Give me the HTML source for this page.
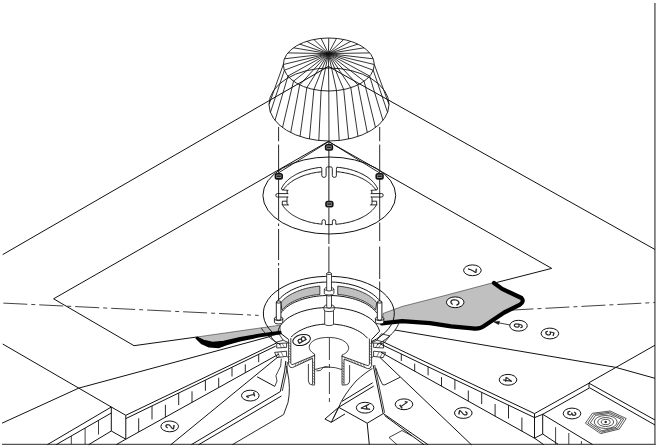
<!DOCTYPE html>
<html><head><meta charset="utf-8"><title>Roof drain detail</title>
<style>html,body{margin:0;padding:0;background:#fff}svg{display:block;filter:grayscale(1)}text{font-family:"Liberation Sans",sans-serif}</style>
</head><body>
<svg width="660" height="448" viewBox="0 0 660 448">
<rect width="660" height="448" fill="#fff"/>
<line x1="654.9" y1="3.0" x2="654.9" y2="445.0" stroke="#777" stroke-width="1.7" />
<line x1="2.0" y1="444.4" x2="655.7" y2="444.4" stroke="#555" stroke-width="1.3" />
<line x1="328.4" y1="66.4" x2="2.7" y2="254.6" stroke="#111" stroke-width="1.0" />
<line x1="328.4" y1="66.4" x2="655.0" y2="249.5" stroke="#111" stroke-width="1.0" />
<path d="M328.3,141.4 L53.6,298.8 L134.0,345.7 L197.7,336.9" stroke="#111" stroke-width="1.0" fill="none" stroke-linejoin="round" />
<path d="M328.3,141.4 L551.7,268.4 L496.5,282.5" stroke="#111" stroke-width="1.0" fill="none" stroke-linejoin="round" />
<ellipse cx="328.8" cy="64.5" rx="45.5" ry="26.5" stroke="#111" stroke-width="0.9" fill="none" />
<ellipse cx="329.0" cy="104.5" rx="60.0" ry="36.5" stroke="#111" stroke-width="0.9" fill="none" />
<line x1="328.4" y1="53.6" x2="328.8" y2="91.0" stroke="#111" stroke-width="0.85" />
<line x1="328.8" y1="91.0" x2="329.0" y2="141.0" stroke="#111" stroke-width="0.85" />
<line x1="328.4" y1="53.6" x2="328.8" y2="38.0" stroke="#111" stroke-width="0.85" />
<line x1="328.4" y1="53.6" x2="336.5" y2="90.6" stroke="#111" stroke-width="0.85" />
<line x1="336.5" y1="90.6" x2="339.2" y2="140.5" stroke="#111" stroke-width="0.85" />
<line x1="328.4" y1="53.6" x2="321.1" y2="90.6" stroke="#111" stroke-width="0.85" />
<line x1="321.1" y1="90.6" x2="318.8" y2="140.5" stroke="#111" stroke-width="0.85" />
<line x1="328.4" y1="53.6" x2="321.1" y2="38.4" stroke="#111" stroke-width="0.85" />
<line x1="328.4" y1="53.6" x2="336.5" y2="38.4" stroke="#111" stroke-width="0.85" />
<line x1="328.4" y1="53.6" x2="343.7" y2="89.5" stroke="#111" stroke-width="0.85" />
<line x1="343.7" y1="89.5" x2="348.6" y2="139.0" stroke="#111" stroke-width="0.85" />
<line x1="328.4" y1="53.6" x2="313.9" y2="89.5" stroke="#111" stroke-width="0.85" />
<line x1="313.9" y1="89.5" x2="309.4" y2="139.0" stroke="#111" stroke-width="0.85" />
<line x1="328.4" y1="53.6" x2="313.9" y2="39.5" stroke="#111" stroke-width="0.85" />
<line x1="328.4" y1="53.6" x2="343.7" y2="39.5" stroke="#111" stroke-width="0.85" />
<line x1="328.4" y1="53.6" x2="350.8" y2="87.7" stroke="#111" stroke-width="0.85" />
<line x1="350.8" y1="87.7" x2="358.0" y2="136.5" stroke="#111" stroke-width="0.85" />
<line x1="328.4" y1="53.6" x2="306.8" y2="87.7" stroke="#111" stroke-width="0.85" />
<line x1="306.8" y1="87.7" x2="300.0" y2="136.5" stroke="#111" stroke-width="0.85" />
<line x1="328.4" y1="53.6" x2="306.8" y2="41.3" stroke="#111" stroke-width="0.85" />
<line x1="328.4" y1="53.6" x2="350.8" y2="41.3" stroke="#111" stroke-width="0.85" />
<line x1="328.4" y1="53.6" x2="357.9" y2="84.9" stroke="#111" stroke-width="0.85" />
<line x1="357.9" y1="84.9" x2="367.3" y2="132.6" stroke="#111" stroke-width="0.85" />
<line x1="328.4" y1="53.6" x2="299.7" y2="84.9" stroke="#111" stroke-width="0.85" />
<line x1="299.7" y1="84.9" x2="290.7" y2="132.6" stroke="#111" stroke-width="0.85" />
<line x1="328.4" y1="53.6" x2="299.7" y2="44.1" stroke="#111" stroke-width="0.85" />
<line x1="328.4" y1="53.6" x2="357.9" y2="44.1" stroke="#111" stroke-width="0.85" />
<line x1="328.4" y1="53.6" x2="364.1" y2="81.2" stroke="#111" stroke-width="0.85" />
<line x1="364.1" y1="81.2" x2="375.5" y2="127.6" stroke="#111" stroke-width="0.85" />
<line x1="328.4" y1="53.6" x2="293.5" y2="81.2" stroke="#111" stroke-width="0.85" />
<line x1="293.5" y1="81.2" x2="282.5" y2="127.6" stroke="#111" stroke-width="0.85" />
<line x1="328.4" y1="53.6" x2="293.5" y2="47.8" stroke="#111" stroke-width="0.85" />
<line x1="328.4" y1="53.6" x2="364.1" y2="47.8" stroke="#111" stroke-width="0.85" />
<line x1="328.4" y1="53.6" x2="369.7" y2="76.1" stroke="#111" stroke-width="0.85" />
<line x1="369.7" y1="76.1" x2="383.0" y2="120.4" stroke="#111" stroke-width="0.85" />
<line x1="328.4" y1="53.6" x2="287.9" y2="76.1" stroke="#111" stroke-width="0.85" />
<line x1="287.9" y1="76.1" x2="275.0" y2="120.4" stroke="#111" stroke-width="0.85" />
<line x1="328.4" y1="53.6" x2="287.9" y2="52.9" stroke="#111" stroke-width="0.85" />
<line x1="328.4" y1="53.6" x2="369.7" y2="52.9" stroke="#111" stroke-width="0.85" />
<line x1="328.4" y1="53.6" x2="373.2" y2="70.2" stroke="#111" stroke-width="0.85" />
<line x1="373.2" y1="70.2" x2="387.6" y2="112.4" stroke="#111" stroke-width="0.85" />
<line x1="328.4" y1="53.6" x2="284.4" y2="70.2" stroke="#111" stroke-width="0.85" />
<line x1="284.4" y1="70.2" x2="270.4" y2="112.4" stroke="#111" stroke-width="0.85" />
<line x1="328.4" y1="53.6" x2="284.4" y2="58.8" stroke="#111" stroke-width="0.85" />
<line x1="328.4" y1="53.6" x2="373.2" y2="58.8" stroke="#111" stroke-width="0.85" />
<line x1="328.4" y1="53.6" x2="374.3" y2="64.5" stroke="#111" stroke-width="0.85" />
<line x1="374.3" y1="64.5" x2="389.0" y2="104.5" stroke="#111" stroke-width="0.85" />
<line x1="328.4" y1="53.6" x2="283.3" y2="64.5" stroke="#111" stroke-width="0.85" />
<line x1="283.3" y1="64.5" x2="269.0" y2="104.5" stroke="#111" stroke-width="0.85" />
<line x1="278.6" y1="127.0" x2="278.6" y2="141.2" stroke="#111" stroke-width="0.9" />
<line x1="278.6" y1="144.6" x2="278.6" y2="173.0" stroke="#111" stroke-width="0.9" />
<line x1="278.6" y1="179.0" x2="278.6" y2="219.7" stroke="#111" stroke-width="0.9" />
<line x1="278.6" y1="223.5" x2="278.6" y2="226.0" stroke="#111" stroke-width="0.9" />
<line x1="278.6" y1="229.0" x2="278.6" y2="260.0" stroke="#111" stroke-width="0.9" />
<line x1="278.6" y1="263.0" x2="278.6" y2="265.5" stroke="#111" stroke-width="0.9" />
<line x1="278.6" y1="268.0" x2="278.6" y2="300.5" stroke="#111" stroke-width="0.9" />
<line x1="379.7" y1="127.0" x2="379.7" y2="141.2" stroke="#111" stroke-width="0.9" />
<line x1="379.7" y1="144.6" x2="379.7" y2="173.0" stroke="#111" stroke-width="0.9" />
<line x1="379.7" y1="179.0" x2="379.7" y2="219.7" stroke="#111" stroke-width="0.9" />
<line x1="379.7" y1="222.5" x2="379.7" y2="241.0" stroke="#111" stroke-width="0.9" />
<line x1="379.7" y1="246.5" x2="379.7" y2="279.0" stroke="#111" stroke-width="0.9" />
<line x1="379.7" y1="281.5" x2="379.7" y2="301.0" stroke="#111" stroke-width="0.9" />
<line x1="328.9" y1="141.4" x2="328.9" y2="204.0" stroke="#111" stroke-width="1.0" />
<line x1="328.9" y1="207.7" x2="328.9" y2="244.0" stroke="#111" stroke-width="0.9" />
<line x1="328.9" y1="246.5" x2="328.9" y2="272.4" stroke="#111" stroke-width="0.9" />
<line x1="328.8" y1="141.6" x2="278.6" y2="172.8" stroke="#111" stroke-width="0.9" />
<line x1="328.8" y1="141.6" x2="379.4" y2="172.8" stroke="#111" stroke-width="0.9" />
<ellipse cx="329.3" cy="195.5" rx="66.4" ry="38.5" stroke="#111" stroke-width="1.0" fill="none" />
<path d="M281.3,189.0 L281.6,188.2 L282.0,187.4 L282.5,186.6 L282.9,185.8 L283.5,185.0 L284.0,184.2 L284.6,183.5 L285.2,182.7 L285.9,182.0 L286.6,181.2 L287.4,180.5 L288.2,179.8 L289.0,179.1 L289.8,178.4 L290.7,177.8 L291.6,177.1 L292.6,176.5 L293.6,175.9 L294.6,175.3 L295.6,174.7 L296.7,174.1 L297.8,173.6 L298.9,173.0 L300.1,172.5 L301.2,172.0 L302.4,171.6 L303.7,171.1 L304.9,170.7 L306.2,170.3 L307.5,169.9 L308.8,169.5 L310.1,169.2 L311.4,168.9 L312.8,168.6 L314.2,168.3 L315.6,168.1 L317.0,167.8 L318.4,167.6 L319.8,167.5 L321.2,167.3" stroke="#111" stroke-width="1.0" fill="none" stroke-linejoin="round" />
<path d="M336.8,167.2 L338.3,167.4 L339.7,167.5 L341.1,167.7 L342.6,167.9 L344.0,168.2 L345.4,168.4 L346.8,168.7 L348.1,169.0 L349.5,169.3 L350.8,169.7 L352.2,170.1 L353.5,170.5 L354.7,170.9 L356.0,171.4 L357.2,171.8 L358.4,172.3 L359.6,172.8 L360.8,173.4 L361.9,173.9 L363.0,174.5 L364.1,175.1 L365.1,175.7 L366.1,176.3 L367.1,176.9 L368.1,177.6 L369.0,178.3 L369.8,178.9 L370.7,179.6 L371.5,180.4 L372.2,181.1 L373.0,181.8 L373.7,182.6 L374.3,183.4 L374.9,184.1 L375.5,184.9 L376.0,185.7 L376.5,186.5 L377.0,187.3 L377.4,188.2 L377.7,189.0" stroke="#111" stroke-width="1.0" fill="none" stroke-linejoin="round" />
<path d="M376.7,204.6 L376.2,205.4 L375.7,206.1 L375.2,206.9 L374.6,207.6 L374.0,208.4 L373.4,209.1 L372.7,209.8 L372.0,210.5 L371.3,211.2 L370.5,211.9 L369.7,212.5 L368.9,213.2 L368.0,213.8 L367.1,214.5 L366.2,215.1 L365.3,215.7 L364.3,216.2 L363.3,216.8 L362.2,217.3 L361.1,217.9 L360.1,218.4 L358.9,218.9 L357.8,219.4 L356.6,219.8 L355.5,220.2 L354.3,220.7 L353.0,221.1 L351.8,221.4 L350.5,221.8 L349.3,222.1 L348.0,222.4 L346.7,222.7 L345.3,223.0 L344.0,223.2 L342.7,223.5 L341.3,223.7 L339.9,223.9 L338.6,224.0 L337.2,224.2 L335.8,224.3" stroke="#111" stroke-width="1.0" fill="none" stroke-linejoin="round" />
<path d="M322.0,224.2 L320.6,224.0 L319.3,223.9 L318.0,223.7 L316.6,223.5 L315.3,223.3 L314.0,223.1 L312.7,222.8 L311.4,222.5 L310.2,222.2 L308.9,221.9 L307.7,221.6 L306.5,221.2 L305.2,220.8 L304.1,220.4 L302.9,220.0 L301.8,219.6 L300.6,219.1 L299.5,218.6 L298.4,218.2 L297.4,217.6 L296.4,217.1 L295.3,216.6 L294.4,216.0 L293.4,215.5 L292.5,214.9 L291.6,214.3 L290.7,213.7 L289.9,213.0 L289.1,212.4 L288.3,211.7 L287.5,211.1 L286.8,210.4 L286.2,209.7 L285.5,209.0 L284.9,208.3 L284.3,207.6 L283.8,206.8 L283.2,206.1 L282.8,205.4 L282.3,204.6" stroke="#111" stroke-width="1.0" fill="none" stroke-linejoin="round" />
<path d="M282.8,190.5 L283.3,189.8 L283.8,189.1 L284.3,188.4 L284.8,187.7 L285.4,187.0 L286.1,186.3 L286.7,185.6 L287.4,185.0 L288.1,184.3 L288.9,183.7 L289.6,183.1 L290.4,182.5 L291.3,181.9 L292.1,181.3 L293.0,180.7 L293.9,180.1 L294.8,179.6 L295.8,179.1 L296.8,178.6 L297.8,178.1 L298.8,177.6 L299.9,177.1 L300.9,176.7 L302.0,176.2 L303.1,175.8 L304.3,175.4 L305.4,175.0 L306.6,174.7 L307.8,174.3 L309.0,174.0 L310.2,173.7 L311.4,173.4 L312.6,173.1 L313.9,172.9 L315.2,172.6 L316.4,172.4 L317.7,172.2 L319.0,172.1 L320.3,171.9 L321.6,171.8" stroke="#111" stroke-width="1.0" fill="none" stroke-linejoin="round" />
<path d="M336.4,171.7 L337.7,171.8 L339.1,171.9 L340.4,172.1 L341.7,172.3 L343.0,172.5 L344.3,172.7 L345.6,173.0 L346.8,173.2 L348.1,173.5 L349.3,173.8 L350.6,174.1 L351.8,174.5 L353.0,174.8 L354.2,175.2 L355.3,175.6 L356.5,176.0 L357.6,176.5 L358.7,176.9 L359.8,177.4 L360.8,177.9 L361.9,178.4 L362.9,178.9 L363.8,179.4 L364.8,180.0 L365.7,180.5 L366.7,181.1 L367.5,181.7 L368.4,182.3 L369.2,182.9 L370.0,183.6 L370.8,184.2 L371.5,184.9 L372.2,185.5 L372.9,186.2 L373.5,186.9 L374.1,187.6 L374.7,188.3 L375.2,189.0 L375.7,189.8 L376.2,190.5" stroke="#111" stroke-width="1.0" fill="none" stroke-linejoin="round" />
<path d="M321.2,167.3 Q321.8,167.6 321.8,169.5 L321.8,175.6 Q321.8,177.4 323.9,177.4 Q326.1,177.4 326.1,175.6 L326.1,168.4 Q326.1,166.9 327.6,166.9 L330.8,166.9 Q332.3,166.9 332.3,168.4 L332.3,175.6 Q332.3,177.4 334.4,177.4 Q336.4,177.4 336.4,175.6 L336.4,169.5 Q336.4,167.6 336.8,167.3" stroke="#111" stroke-width="0.9" fill="none" />
<path d="M322,224.4 L322,221.2 Q322,219.7 323.7,219.7 Q325.4,219.7 325.4,221.2 L325.4,224.6 L332.4,224.6 L332.4,221.2 Q332.4,219.7 334.1,219.7 Q335.8,219.7 335.8,221.2 L335.8,224.4" stroke="#111" stroke-width="0.9" fill="none" />
<path d="M281.2,189 Q281.5,190 288.2,190.4 Q287.0,190.6 287.0,192 Q287.0,193.6 288.2,193.6 L277.3,193.6 Q275.8,193.6 275.8,195.3 Q275.8,197 277.3,197 L288.2,197 Q287.0,197 287.0,198.2 L287.0,203.3 Q287.0,204.9 288.5,204.9 L282.3,204.9 L282.3,201.2 L287.0,201.2" stroke="#111" stroke-width="0.9" fill="none" />
<path d="M377.8,189 Q377.5,190 370.8,190.4 Q372.0,190.6 372.0,192 Q372.0,193.6 370.8,193.6 L381.7,193.6 Q383.2,193.6 383.2,195.3 Q383.2,197 381.7,197 L370.8,197 Q372.0,197 372.0,198.2 L372.0,203.3 Q372.0,204.9 370.5,204.9 L376.7,204.9 L376.7,201.2 L372.0,201.2" stroke="#111" stroke-width="0.9" fill="none" />
<rect x="325.6" y="144.8" width="6.8" height="5.2" rx="1.7" fill="#8a8a8a" stroke="#111" stroke-width="1.6"/>
<rect x="327.0" y="146.6" width="4.0" height="1.5" fill="#222"/>
<rect x="275.4" y="173.7" width="6.8" height="5.2" rx="1.7" fill="#8a8a8a" stroke="#111" stroke-width="1.6"/>
<rect x="276.8" y="175.5" width="4.0" height="1.5" fill="#222"/>
<rect x="376.2" y="173.7" width="6.8" height="5.2" rx="1.7" fill="#8a8a8a" stroke="#111" stroke-width="1.6"/>
<rect x="377.6" y="175.5" width="4.0" height="1.5" fill="#222"/>
<rect x="326.0" y="201.5" width="6.8" height="5.2" rx="1.7" fill="#8a8a8a" stroke="#111" stroke-width="1.6"/>
<rect x="327.4" y="203.3" width="4.0" height="1.5" fill="#222"/>
<line x1="3.3" y1="303.1" x2="258.6" y2="315.4" stroke="#111" stroke-width="0.8" stroke-dasharray="24 4 4 4"/>
<line x1="509.5" y1="310.2" x2="655.0" y2="302.5" stroke="#111" stroke-width="0.8" stroke-dasharray="24 4 4 4"/>
<line x1="2.7" y1="344.0" x2="111.3" y2="407.0" stroke="#111" stroke-width="1.0" />
<line x1="111.3" y1="407.0" x2="125.8" y2="415.3" stroke="#111" stroke-width="1.0" />
<line x1="2.0" y1="423.2" x2="78.8" y2="388.1" stroke="#111" stroke-width="1.0" />
<line x1="78.8" y1="388.1" x2="272.0" y2="336.0" stroke="#111" stroke-width="1.0" />
<path d="M394.9,330.0 L615.5,367.3 L655.0,378.3" stroke="#111" stroke-width="1.0" fill="none" stroke-linejoin="round" />
<line x1="655.0" y1="345.2" x2="588.8" y2="382.8" stroke="#111" stroke-width="1.0" />
<line x1="125.8" y1="415.3" x2="276.7" y2="342.9" stroke="#111" stroke-width="1.0" />
<line x1="125.8" y1="418.6" x2="275.7" y2="346.1" stroke="#111" stroke-width="1.0" />
<line x1="125.8" y1="439.2" x2="279.0" y2="354.0" stroke="#111" stroke-width="1.0" />
<line x1="125.8" y1="415.3" x2="125.8" y2="439.2" stroke="#111" stroke-width="1.0" />
<line x1="138.7" y1="418.3" x2="138.7" y2="432.0" stroke="#111" stroke-width="0.9" />
<line x1="152.0" y1="405.9" x2="152.0" y2="419.4" stroke="#111" stroke-width="0.9" />
<line x1="165.4" y1="404.8" x2="165.4" y2="417.2" stroke="#111" stroke-width="0.9" />
<line x1="178.7" y1="393.0" x2="178.7" y2="405.1" stroke="#111" stroke-width="0.9" />
<line x1="192.0" y1="391.3" x2="192.0" y2="402.4" stroke="#111" stroke-width="0.9" />
<line x1="205.4" y1="380.1" x2="205.4" y2="390.8" stroke="#111" stroke-width="0.9" />
<line x1="218.7" y1="377.8" x2="218.7" y2="387.5" stroke="#111" stroke-width="0.9" />
<line x1="232.0" y1="367.2" x2="232.0" y2="376.5" stroke="#111" stroke-width="0.9" />
<line x1="245.3" y1="364.4" x2="245.3" y2="372.7" stroke="#111" stroke-width="0.9" />
<line x1="258.7" y1="354.3" x2="258.7" y2="362.2" stroke="#111" stroke-width="0.9" />
<line x1="111.3" y1="407.0" x2="47.3" y2="444.7" stroke="#111" stroke-width="1.0" />
<line x1="111.3" y1="413.0" x2="56.1" y2="444.7" stroke="#111" stroke-width="1.0" />
<line x1="111.3" y1="407.0" x2="111.3" y2="431.0" stroke="#111" stroke-width="1.0" />
<line x1="111.3" y1="431.0" x2="88.6" y2="444.7" stroke="#111" stroke-width="1.0" />
<line x1="111.3" y1="431.0" x2="125.8" y2="439.2" stroke="#111" stroke-width="1.0" />
<line x1="125.8" y1="439.2" x2="116.2" y2="444.7" stroke="#111" stroke-width="1.0" />
<line x1="98.5" y1="420.0" x2="98.5" y2="434.5" stroke="#111" stroke-width="0.8" />
<line x1="85.1" y1="428.0" x2="85.1" y2="444.2" stroke="#111" stroke-width="0.8" />
<line x1="71.3" y1="436.0" x2="71.3" y2="444.2" stroke="#111" stroke-width="0.8" />
<line x1="383.0" y1="341.8" x2="534.5" y2="413.6" stroke="#111" stroke-width="1.0" />
<line x1="380.4" y1="344.0" x2="534.5" y2="417.6" stroke="#111" stroke-width="1.0" />
<line x1="381.0" y1="352.3" x2="534.5" y2="438.2" stroke="#111" stroke-width="1.0" />
<line x1="534.5" y1="413.6" x2="534.5" y2="438.2" stroke="#111" stroke-width="1.0" />
<line x1="401.3" y1="354.0" x2="401.3" y2="361.0" stroke="#111" stroke-width="0.9" />
<line x1="414.7" y1="363.6" x2="414.7" y2="371.2" stroke="#111" stroke-width="0.9" />
<line x1="428.1" y1="366.8" x2="428.1" y2="375.3" stroke="#111" stroke-width="0.9" />
<line x1="441.5" y1="377.1" x2="441.5" y2="386.2" stroke="#111" stroke-width="0.9" />
<line x1="454.9" y1="379.6" x2="454.9" y2="389.7" stroke="#111" stroke-width="0.9" />
<line x1="468.3" y1="390.5" x2="468.3" y2="401.2" stroke="#111" stroke-width="0.9" />
<line x1="481.7" y1="392.4" x2="481.7" y2="404.1" stroke="#111" stroke-width="0.9" />
<line x1="495.1" y1="404.0" x2="495.1" y2="416.2" stroke="#111" stroke-width="0.9" />
<line x1="508.5" y1="405.2" x2="508.5" y2="418.5" stroke="#111" stroke-width="0.9" />
<line x1="521.9" y1="417.5" x2="521.9" y2="431.1" stroke="#111" stroke-width="0.9" />
<line x1="534.5" y1="438.2" x2="543.8" y2="444.7" stroke="#111" stroke-width="1.0" />
<line x1="534.5" y1="413.6" x2="589.0" y2="383.2" stroke="#111" stroke-width="1.0" />
<line x1="534.5" y1="417.6" x2="542.7" y2="414.3" stroke="#111" stroke-width="1.0" />
<line x1="542.7" y1="414.3" x2="589.7" y2="387.8" stroke="#111" stroke-width="1.0" />
<line x1="589.0" y1="383.2" x2="589.0" y2="387.6" stroke="#111" stroke-width="1.0" />
<line x1="589.0" y1="383.2" x2="655.0" y2="420.0" stroke="#111" stroke-width="1.0" />
<line x1="589.7" y1="387.8" x2="655.0" y2="425.0" stroke="#111" stroke-width="1.0" />
<line x1="542.7" y1="414.3" x2="542.7" y2="434.0" stroke="#111" stroke-width="1.0" />
<line x1="534.5" y1="438.2" x2="542.7" y2="434.0" stroke="#111" stroke-width="1.0" />
<line x1="542.7" y1="414.3" x2="592.7" y2="444.6" stroke="#111" stroke-width="1.0" />
<line x1="542.7" y1="434.0" x2="558.0" y2="444.2" stroke="#111" stroke-width="1.0" />
<line x1="555.6" y1="427.2" x2="555.6" y2="444.2" stroke="#111" stroke-width="0.8" />
<line x1="568.8" y1="433.0" x2="568.8" y2="444.2" stroke="#111" stroke-width="0.8" />
<line x1="581.4" y1="441.0" x2="581.4" y2="444.2" stroke="#111" stroke-width="0.8" />
<line x1="170.8" y1="444.7" x2="278.5" y2="356.5" stroke="#111" stroke-width="1.0" />
<line x1="379.9" y1="357.4" x2="471.5" y2="444.8" stroke="#111" stroke-width="1.0" />
<path d="M383.0,313.5 L402.0,306.5 L440.0,296.8 L493.6,282.6 L502.1,288.9 L519.1,296.4 L523.0,299.5 L521.2,303.8 L504.2,312.3 L481.5,327.8 L472.4,328.2 L451.2,326.1 L430.0,322.9 L402.0,321.0 L383.0,323.0 Z" stroke="#333" stroke-width="0.6" fill="#c0c0c0" stroke-linejoin="round" />
<path d="M382,323.4 L402,321.2 L430,323.2 L451.2,326.3 L472.4,328.4 Q480.5,329.2 484,326 L504.2,312.5 L520,304.6 Q524.5,301.5 521.5,298 L502.1,288.9 L494,283" stroke="#000" stroke-width="4.2" fill="none" stroke-linecap="round" stroke-linejoin="round"/>
<path d="M197.7,336.9 L268.6,326.8 L280.0,325.2 L280.5,332.5 L262.0,335.5 L243.0,339.0 L229.0,342.0 L218.0,346.0 L207.0,344.5 L200.0,340.0 Z" stroke="#333" stroke-width="0.6" fill="#c0c0c0" stroke-linejoin="round" />
<path d="M197.3,337.3 L203.6,340.5 L212.7,342.4 L223.6,341.5 L240.0,337.8 L260.0,334.2 L280.5,331.4 L281.0,333.6 L260.0,336.6 L240.0,340.7 L227.3,344.4 L219.0,347.4 L209.0,346.7 L201.8,343.6 L196.2,338.2 Z" stroke="#000" stroke-width="1.5" fill="#000" stroke-linejoin="round" />
<path d="M272.1,332.1 L268.7,328.3 L266.2,324.4 L264.4,320.3 L263.5,316.1 L263.4,311.9 L264.1,307.7 L265.7,303.6 L268.1,299.6 L271.2,295.7 L275.1,292.2 L279.7,288.9 L285.0,285.9 L290.8,283.2 L297.0,281.0 L303.7,279.1 L310.7,277.7 L318.0,276.8 L325.4,276.4 L332.8,276.4 L340.2,276.9 L347.4,277.8 L354.4,279.3 L361.1,281.1 L367.3,283.4 L373.1,286.1 L378.2,289.1 L382.8,292.4 L386.6,296.0 L389.7,299.9 L392.1,303.9 L393.6,308.0 L394.3,312.2 L394.1,316.4 L393.1,320.6 L391.3,324.7 L388.6,328.6 L385.2,332.4 L381.1,335.9 L376.3,339.1 L370.9,342.0" stroke="#111" stroke-width="1.0" fill="none" stroke-linejoin="round" />
<path d="M276.2,303.1 L277.4,301.2 L278.9,299.5 L280.5,297.8 L282.4,296.1 L284.4,294.5 L286.5,293.0 L288.9,291.6 L291.3,290.2 L293.9,289.0 L296.7,287.8 L299.5,286.7 L302.5,285.7 L305.6,284.9 L308.7,284.1 L312.0,283.5 L315.3,283.0 L318.6,282.5 L322.0,282.2 L325.4,282.1 L328.8,282.0 L332.2,282.1 L335.6,282.2 L339.0,282.5 L342.3,283.0 L345.6,283.5 L348.9,284.1 L352.0,284.9 L355.1,285.7 L358.1,286.7 L360.9,287.8 L363.7,289.0 L366.3,290.2 L368.7,291.6 L371.1,293.0 L373.2,294.5 L375.2,296.1 L377.1,297.8 L378.7,299.5 L380.2,301.2 L381.4,303.1" stroke="#111" stroke-width="1.0" fill="none" stroke-linejoin="round" />
<path d="M280.9,302.5 L281.6,301.6 L282.4,300.8 L283.2,300.0 L284.0,299.2 L284.9,298.4 L285.9,297.7 L286.9,296.9 L287.9,296.2 L289.0,295.5 L290.2,294.8 L291.3,294.1 L292.5,293.5 L293.8,292.9 L295.1,292.3 L296.4,291.7 L297.8,291.1 L299.2,290.6 L300.6,290.1 L302.1,289.6 L303.6,289.1 L305.1,288.7 L306.7,288.3 L308.2,287.9 L309.8,287.6 L311.4,287.3 L313.1,287.0 L314.7,286.7 L316.4,286.5 L318.1,286.3 L319.8,286.1 L319.9,294.4 L318.3,294.6 L316.6,294.8 L315.0,295.0 L313.4,295.2 L311.8,295.5 L310.2,295.8 L308.6,296.2 L307.1,296.5 L305.6,296.9 L304.1,297.3 L302.6,297.8 L301.2,298.2 L299.8,298.7 L298.4,299.2 L297.1,299.8 L295.7,300.3 L294.5,300.9 L293.2,301.5 L292.1,302.1 L290.9,302.8 L289.8,303.4 L288.7,304.1 L287.7,304.8 L286.7,305.5 L285.8,306.3 L284.9,307.0 L284.1,307.8 L283.3,308.6 L282.5,309.3 L281.9,310.1 Z" stroke="#111" stroke-width="0.8" fill="#c0c0c0" stroke-linejoin="round" />
<path d="M337.8,286.1 L339.5,286.3 L341.2,286.5 L342.9,286.7 L344.5,287.0 L346.2,287.3 L347.8,287.6 L349.4,287.9 L350.9,288.3 L352.5,288.7 L354.0,289.1 L355.5,289.6 L357.0,290.1 L358.4,290.6 L359.8,291.1 L361.2,291.7 L362.5,292.3 L363.8,292.9 L365.1,293.5 L366.3,294.1 L367.4,294.8 L368.6,295.5 L369.7,296.2 L370.7,296.9 L371.7,297.7 L372.7,298.4 L373.6,299.2 L374.4,300.0 L375.2,300.8 L376.0,301.6 L376.7,302.5 L375.7,310.1 L375.1,309.3 L374.3,308.6 L373.5,307.8 L372.7,307.0 L371.8,306.3 L370.9,305.5 L369.9,304.8 L368.9,304.1 L367.8,303.4 L366.7,302.8 L365.5,302.1 L364.4,301.5 L363.1,300.9 L361.9,300.3 L360.5,299.8 L359.2,299.2 L357.8,298.7 L356.4,298.2 L355.0,297.8 L353.5,297.3 L352.0,296.9 L350.5,296.5 L349.0,296.2 L347.4,295.8 L345.8,295.5 L344.2,295.2 L342.6,295.0 L341.0,294.8 L339.3,294.6 L337.7,294.4 Z" stroke="#111" stroke-width="0.8" fill="#c0c0c0" stroke-linejoin="round" />
<path d="M280.9,312.9 L282.0,311.4 L283.4,310.0 L284.9,308.6 L286.5,307.2 L288.3,305.9 L290.3,304.6 L292.4,303.4 L294.7,302.3 L297.1,301.3 L299.5,300.3 L302.2,299.4 L304.9,298.6 L307.7,297.9 L310.5,297.3 L313.5,296.7 L316.5,296.3 L319.5,295.9 L322.6,295.7 L325.7,295.5 L328.8,295.5 L331.9,295.5 L335.0,295.7 L338.1,295.9 L341.1,296.3 L344.1,296.7 L347.1,297.3 L349.9,297.9 L352.7,298.6 L355.4,299.4 L358.1,300.3 L360.5,301.3 L362.9,302.3 L365.2,303.4 L367.3,304.6 L369.3,305.9 L371.1,307.2 L372.7,308.6 L374.2,310.0 L375.6,311.4 L376.7,312.9" stroke="#111" stroke-width="1.0" fill="none" stroke-linejoin="round" />
<path d="M278.1,331.2 L278.6,329.3 L279.4,327.4 L280.5,325.5 L281.8,323.7 L283.4,322.0 L285.2,320.3 L287.2,318.6 L289.5,317.1 L292.0,315.7 L294.7,314.3 L297.5,313.1 L300.6,311.9 L303.8,310.9 L307.1,310.0 L310.5,309.3 L314.1,308.6 L317.7,308.1 L321.3,307.8 L325.1,307.6 L328.8,307.5 L332.5,307.6 L336.3,307.8 L339.9,308.1 L343.5,308.6 L347.1,309.3 L350.5,310.0 L353.8,310.9 L357.0,311.9 L360.1,313.1 L362.9,314.3 L365.6,315.7 L368.1,317.1 L370.4,318.6 L372.4,320.3 L374.2,322.0 L375.8,323.7 L377.1,325.5 L378.2,327.4 L379.0,329.3 L379.5,331.2" stroke="#111" stroke-width="1.0" fill="none" stroke-linejoin="round" />
<path d="M291.1,337.1 L292.3,335.9 L293.7,334.7 L295.1,333.6 L296.7,332.6 L298.3,331.5 L300.0,330.6 L301.8,329.7 L303.7,328.8 L305.6,328.0 L307.6,327.3 L309.7,326.7 L311.8,326.1 L314.0,325.6 L316.2,325.1 L318.4,324.8 L320.7,324.5 L323.0,324.2 L325.3,324.1 L327.6,324.0 L330.0,324.0 L332.3,324.1 L334.6,324.2 L336.9,324.5 L339.1,324.8 L341.4,325.1 L343.6,325.6 L345.8,326.1 L347.9,326.7 L349.9,327.3 L352.0,328.0 L353.9,328.8 L355.8,329.7 L357.6,330.6 L359.3,331.5 L360.9,332.5 L362.5,333.6 L363.9,334.7 L365.3,335.9 L366.5,337.1 L367.6,338.3" stroke="#111" stroke-width="1.0" fill="none" stroke-linejoin="round" />
<path d="M274.4,318.6 L274.4,322 A4.2,2 0 0 0 282.8,322 L282.8,318.6 A4.2,2 0 0 0 274.4,318.6 Z" fill="#fff" stroke="#111" stroke-width="0.9"/>
<path d="M274.4,318.6 A4.2,2 0 0 0 282.8,318.6" fill="none" stroke="#111" stroke-width="0.9"/>
<path d="M276.3,302 L276.3,319 A2.3,1.1 0 0 0 280.9,319 L280.9,302 A2.3,1.1 0 0 0 276.3,302 Z" fill="#fff" stroke="#111" stroke-width="0.9"/>
<path d="M276.3,302 A2.3,1.1 0 0 0 280.9,302" fill="none" stroke="#111" stroke-width="0.9"/>
<path d="M375.4,318.6 L375.4,322 A4.2,2 0 0 0 383.8,322 L383.8,318.6 A4.2,2 0 0 0 375.4,318.6 Z" fill="#fff" stroke="#111" stroke-width="0.9"/>
<path d="M375.4,318.6 A4.2,2 0 0 0 383.8,318.6" fill="none" stroke="#111" stroke-width="0.9"/>
<path d="M377.3,302 L377.3,319 A2.3,1.1 0 0 0 381.9,319 L381.9,302 A2.3,1.1 0 0 0 377.3,302 Z" fill="#fff" stroke="#111" stroke-width="0.9"/>
<path d="M377.3,302 A2.3,1.1 0 0 0 381.9,302" fill="none" stroke="#111" stroke-width="0.9"/>
<path d="M324.7,308.0 L324.7,324.0 A4.4,1.6 0 0 0 333.5,324.0 L333.5,308.0 A4.4,1.6 0 0 0 324.7,308.0 Z" fill="#fff" stroke="#111" stroke-width="0.8"/>
<path d="M324.7,308.0 A4.4,1.6 0 0 0 333.5,308.0" fill="none" stroke="#111" stroke-width="0.8"/>
<path d="M324.0,306.5 L324.0,310.0 A5.1,1.6 0 0 0 334.2,310.0 L334.2,306.5 A5.1,1.6 0 0 0 324.0,306.5 Z" fill="#fff" stroke="#111" stroke-width="0.8"/>
<path d="M324.0,306.5 A5.1,1.6 0 0 0 334.2,306.5" fill="none" stroke="#111" stroke-width="0.8"/>
<path d="M326.7,295.0 L326.7,307.0 A2.4,1 0 0 0 331.5,307.0 L331.5,295.0 A2.4,1 0 0 0 326.7,295.0 Z" fill="#fff" stroke="#111" stroke-width="0.8"/>
<path d="M326.7,295.0 A2.4,1 0 0 0 331.5,295.0" fill="none" stroke="#111" stroke-width="0.8"/>
<path d="M324.3,289.0 L324.3,293.5 A4.8,1.5 0 0 0 333.9,293.5 L333.9,289.0 A4.8,1.5 0 0 0 324.3,289.0 Z" fill="#fff" stroke="#111" stroke-width="0.8"/>
<path d="M324.3,289.0 A4.8,1.5 0 0 0 333.9,289.0" fill="none" stroke="#111" stroke-width="0.8"/>
<path d="M326.7,273.5 L326.7,290.0 A2.4,1 0 0 0 331.5,290.0 L331.5,273.5 A2.4,1 0 0 0 326.7,273.5 Z" fill="#fff" stroke="#111" stroke-width="0.8"/>
<path d="M326.7,273.5 A2.4,1 0 0 0 331.5,273.5" fill="none" stroke="#111" stroke-width="0.8"/>
<line x1="278.1" y1="331.3" x2="288.6" y2="339.5" stroke="#111" stroke-width="1.0" />
<line x1="379.5" y1="331.3" x2="371.6" y2="339.5" stroke="#111" stroke-width="1.0" />
<path d="M288.6,339.5 L288.6,364.5 L290.0,367.2 L292.5,367.6 L312.6,358.3 L312.6,384.5" stroke="#111" stroke-width="0.8" fill="none" stroke-linejoin="round" />
<path d="M290.8,338.0 L290.8,363.2 L292.0,364.8 L314.6,355.3 L314.6,384.8" stroke="#111" stroke-width="0.8" fill="none" stroke-linejoin="round" />
<path d="M371.6,339.5 L371.6,365.5 L370.2,368.2 L367.7,368.6 L344.0,359.2 L344.0,384.5" stroke="#111" stroke-width="0.8" fill="none" stroke-linejoin="round" />
<path d="M369.4,338.5 L369.4,364.2 L368.2,365.8 L342.0,356.2 L342.0,384.8" stroke="#111" stroke-width="0.8" fill="none" stroke-linejoin="round" />
<line x1="288.6" y1="342.7" x2="290.8" y2="344.0" stroke="#111" stroke-width="0.5" />
<line x1="288.6" y1="345.3" x2="290.8" y2="346.7" stroke="#111" stroke-width="0.5" />
<line x1="288.6" y1="348.0" x2="290.8" y2="349.3" stroke="#111" stroke-width="0.5" />
<line x1="288.6" y1="350.7" x2="290.8" y2="352.0" stroke="#111" stroke-width="0.5" />
<line x1="288.6" y1="353.3" x2="290.8" y2="354.7" stroke="#111" stroke-width="0.5" />
<line x1="288.6" y1="356.0" x2="290.8" y2="357.3" stroke="#111" stroke-width="0.5" />
<line x1="288.6" y1="358.7" x2="290.8" y2="360.0" stroke="#111" stroke-width="0.5" />
<line x1="288.6" y1="361.3" x2="290.8" y2="362.7" stroke="#111" stroke-width="0.5" />
<line x1="369.4" y1="342.8" x2="371.6" y2="344.2" stroke="#111" stroke-width="0.5" />
<line x1="369.4" y1="345.6" x2="371.6" y2="346.9" stroke="#111" stroke-width="0.5" />
<line x1="369.4" y1="348.3" x2="371.6" y2="349.7" stroke="#111" stroke-width="0.5" />
<line x1="369.4" y1="351.1" x2="371.6" y2="352.5" stroke="#111" stroke-width="0.5" />
<line x1="369.4" y1="353.9" x2="371.6" y2="355.3" stroke="#111" stroke-width="0.5" />
<line x1="369.4" y1="356.7" x2="371.6" y2="358.1" stroke="#111" stroke-width="0.5" />
<line x1="369.4" y1="359.4" x2="371.6" y2="360.8" stroke="#111" stroke-width="0.5" />
<line x1="369.4" y1="362.2" x2="371.6" y2="363.6" stroke="#111" stroke-width="0.5" />
<line x1="295.0" y1="366.4" x2="296.2" y2="363.0" stroke="#111" stroke-width="0.5" />
<line x1="297.5" y1="365.3" x2="299.1" y2="361.8" stroke="#111" stroke-width="0.5" />
<line x1="300.0" y1="364.1" x2="301.9" y2="360.6" stroke="#111" stroke-width="0.5" />
<line x1="302.6" y1="363.0" x2="304.7" y2="359.5" stroke="#111" stroke-width="0.5" />
<line x1="305.1" y1="361.8" x2="307.5" y2="358.3" stroke="#111" stroke-width="0.5" />
<line x1="307.6" y1="360.6" x2="310.4" y2="357.1" stroke="#111" stroke-width="0.5" />
<line x1="310.1" y1="359.5" x2="313.2" y2="355.9" stroke="#111" stroke-width="0.5" />
<line x1="364.7" y1="367.4" x2="363.3" y2="364.0" stroke="#111" stroke-width="0.5" />
<line x1="361.8" y1="366.2" x2="360.0" y2="362.8" stroke="#111" stroke-width="0.5" />
<line x1="358.8" y1="365.1" x2="356.7" y2="361.6" stroke="#111" stroke-width="0.5" />
<line x1="355.9" y1="363.9" x2="353.5" y2="360.4" stroke="#111" stroke-width="0.5" />
<line x1="352.9" y1="362.7" x2="350.2" y2="359.2" stroke="#111" stroke-width="0.5" />
<line x1="349.9" y1="361.6" x2="346.9" y2="358.0" stroke="#111" stroke-width="0.5" />
<line x1="347.0" y1="360.4" x2="343.6" y2="356.8" stroke="#111" stroke-width="0.5" />
<line x1="312.6" y1="361.8" x2="314.6" y2="363.2" stroke="#111" stroke-width="0.5" />
<line x1="312.6" y1="364.6" x2="314.6" y2="365.9" stroke="#111" stroke-width="0.5" />
<line x1="312.6" y1="367.3" x2="314.6" y2="368.7" stroke="#111" stroke-width="0.5" />
<line x1="312.6" y1="370.1" x2="314.6" y2="371.5" stroke="#111" stroke-width="0.5" />
<line x1="312.6" y1="372.9" x2="314.6" y2="374.3" stroke="#111" stroke-width="0.5" />
<line x1="312.6" y1="375.7" x2="314.6" y2="377.1" stroke="#111" stroke-width="0.5" />
<line x1="312.6" y1="378.4" x2="314.6" y2="379.8" stroke="#111" stroke-width="0.5" />
<line x1="312.6" y1="381.2" x2="314.6" y2="382.6" stroke="#111" stroke-width="0.5" />
<line x1="342.0" y1="362.7" x2="344.0" y2="364.0" stroke="#111" stroke-width="0.5" />
<line x1="342.0" y1="365.3" x2="344.0" y2="366.7" stroke="#111" stroke-width="0.5" />
<line x1="342.0" y1="368.0" x2="344.0" y2="369.3" stroke="#111" stroke-width="0.5" />
<line x1="342.0" y1="370.7" x2="344.0" y2="372.0" stroke="#111" stroke-width="0.5" />
<line x1="342.0" y1="373.3" x2="344.0" y2="374.7" stroke="#111" stroke-width="0.5" />
<line x1="342.0" y1="376.0" x2="344.0" y2="377.3" stroke="#111" stroke-width="0.5" />
<line x1="342.0" y1="378.7" x2="344.0" y2="380.0" stroke="#111" stroke-width="0.5" />
<line x1="342.0" y1="381.3" x2="344.0" y2="382.7" stroke="#111" stroke-width="0.5" />
<path d="M308.4,364 L308.4,381 Q308.6,385 312.6,385 L314.6,385" stroke="#111" stroke-width="0.8" fill="none" />
<path d="M349.6,365 L349.6,381 Q349.4,385 344,385 L342,385" stroke="#111" stroke-width="0.8" fill="none" />
<path d="M314.6,369.6 Q329,364.5 342,369.6" stroke="#111" stroke-width="0.8" fill="none" />
<path d="M314.6,356.5 L314.6,354 C305,349 309,340 321,338 C333,336 347,339 348.6,347 C349,351 346,353.5 342,355 L342,357" stroke="#111" stroke-width="0.8" fill="none" />
<path d="M191.3,444.7 L280.3,391.6 L284.7,370.8 L285.8,361.0" stroke="#111" stroke-width="1.0" fill="none" stroke-linejoin="round" />
<path d="M282.3,391.0 L286.6,371.0 L287.4,362.0" stroke="#111" stroke-width="0.8" fill="none" stroke-linejoin="round" />
<line x1="198.6" y1="444.7" x2="281.4" y2="396.0" stroke="#111" stroke-width="1.0" />
<path d="M232.3,444.7 L283.6,414.6 L288,402.5 Q291,388 287.5,372 L286.5,366" stroke="#111" stroke-width="0.9" fill="none" />
<path d="M257.1,376.8 L274.8,386.4" stroke="#111" stroke-width="1.0" fill="none" />
<path d="M274.8,386.4 L277,381 L275.9,375.7 L278,371.4 L280.7,366 L281.3,358.6" stroke="#111" stroke-width="0.8" fill="none" />
<path d="M373.2,365.3 L383.1,413.4 L428.0,444.7" stroke="#111" stroke-width="1.0" fill="none" stroke-linejoin="round" />
<path d="M374.7,365.0 L384.6,412.8" stroke="#111" stroke-width="0.8" fill="none" stroke-linejoin="round" />
<line x1="384.6" y1="415.6" x2="424.0" y2="444.7" stroke="#111" stroke-width="1.0" />
<line x1="338.7" y1="407.3" x2="373.7" y2="386.1" stroke="#111" stroke-width="1.0" />
<line x1="342.0" y1="401.4" x2="372.6" y2="382.8" stroke="#111" stroke-width="1.0" />
<path d="M338.7,407.3 L367.2,423.2 L383.3,413.6" stroke="#111" stroke-width="1.0" fill="none" stroke-linejoin="round" />
<line x1="367.2" y1="423.2" x2="369.3" y2="444.7" stroke="#111" stroke-width="1.0" />
<path d="M338.7,407.3 L324.9,419.0 L331.3,422.3 L338.7,407.3" stroke="#111" stroke-width="1.0" fill="none" stroke-linejoin="round" />
<line x1="331.3" y1="422.3" x2="345.0" y2="413.9" stroke="#111" stroke-width="1.0" />
<line x1="333.2" y1="418.5" x2="338.7" y2="407.3" stroke="#111" stroke-width="0.6" />
<path d="M338.7,407.3 Q343,396 356,381 Q366,372 372.4,368.5" stroke="#111" stroke-width="0.9" fill="none" />
<path d="M389.0,437.5 L402.0,430.5 L412.0,436.0" stroke="#111" stroke-width="0.8" fill="none" stroke-linejoin="round" />
<line x1="389.0" y1="437.5" x2="397.0" y2="444.7" stroke="#111" stroke-width="0.8" />
<path d="M375.9,368.2 Q377.5,374 381.3,382.2 Q382.3,385.8 384.8,384.9 L400,377.3" stroke="#111" stroke-width="0.9" fill="none" />
<path d="M316.4,370.8 Q321,371.5 322.5,368.5 T328.6,367.2" stroke="#111" stroke-width="0.8" fill="none" />
<path d="M399.2,322.2 L399.0,322.9 L398.7,323.5 L398.4,324.2 L398.1,324.8 L397.8,325.4 L397.5,326.1 L397.2,326.7 L396.8,327.3 L396.4,327.9 L396.0,328.6 L395.6,329.2 L395.2,329.8 L394.7,330.4 L394.3,331.0 L393.8,331.6 L393.3,332.2 L392.8,332.8 L392.3,333.3 L391.7,333.9 L391.2,334.5 L390.6,335.1 L390.0,335.6 L389.4,336.2 L388.8,336.7 L388.1,337.3 L387.5,337.8 L386.8,338.4 L386.2,338.9 L385.5,339.4 L384.8,339.9 L384.0,340.4 L383.3,340.9 L382.6,341.4 L381.8,341.9 L381.0,342.4 L380.2,342.9 L379.4,343.4 L378.6,343.8 L377.8,344.3 L377.0,344.7" stroke="#111" stroke-width="1.0" fill="none" stroke-linejoin="round" />
<path d="M280.6,344.7 L280.0,344.4 L279.3,344.0 L278.7,343.7 L278.1,343.3 L277.4,342.9 L276.8,342.6 L276.2,342.2 L275.6,341.8 L275.0,341.4 L274.5,341.1 L273.9,340.7 L273.3,340.3 L272.8,339.9 L272.2,339.5 L271.7,339.1 L271.1,338.7 L270.6,338.2 L270.1,337.8 L269.6,337.4 L269.1,337.0 L268.6,336.6 L268.1,336.1 L267.7,335.7 L267.2,335.3 L266.8,334.8 L266.3,334.4 L265.9,333.9 L265.5,333.5 L265.1,333.0 L264.6,332.6 L264.3,332.1 L263.9,331.6 L263.5,331.2 L263.1,330.7 L262.8,330.2 L262.4,329.8 L262.1,329.3 L261.8,328.8 L261.4,328.3 L261.1,327.9" stroke="#111" stroke-width="1.0" fill="none" stroke-linejoin="round" />
<line x1="329.4" y1="338.0" x2="329.4" y2="405.0" stroke="#111" stroke-width="0.8" stroke-dasharray="22 4 4 4"/>
<path d="M270.3,335.9 L275.7,342.4 L283.2,340.2 L278.9,333.8 Z" stroke="#111" stroke-width="0.8" fill="none" stroke-linejoin="round" />
<line x1="283.2" y1="340.2" x2="288.4" y2="342.6" stroke="#111" stroke-width="0.8" />
<path d="M276.7,343.6 L286.6,343.0 L286.6,347.4 L276.7,348.0 Z" stroke="#111" stroke-width="0.8" fill="none" stroke-linejoin="round" />
<line x1="279.0" y1="343.5" x2="281.5" y2="347.7" stroke="#111" stroke-width="0.5" />
<line x1="282.0" y1="343.3" x2="284.5" y2="347.5" stroke="#111" stroke-width="0.5" />
<path d="M274.6,352.4 L286.6,351.2 L286.6,356.4 L277.0,357.6 Z" stroke="#111" stroke-width="0.8" fill="none" stroke-linejoin="round" />
<line x1="277.5" y1="352.2" x2="280.0" y2="357.2" stroke="#111" stroke-width="0.5" />
<line x1="281.0" y1="351.8" x2="283.5" y2="356.8" stroke="#111" stroke-width="0.5" />
<line x1="286.6" y1="343.0" x2="288.6" y2="343.0" stroke="#111" stroke-width="0.8" />
<line x1="286.6" y1="356.4" x2="288.6" y2="357.5" stroke="#111" stroke-width="0.8" />
<path d="M389.9,335.9 L384.5,342.4 L377.0,340.2 L381.3,333.8 Z" stroke="#111" stroke-width="0.8" fill="none" stroke-linejoin="round" />
<line x1="377.0" y1="340.2" x2="371.8" y2="342.6" stroke="#111" stroke-width="0.8" />
<path d="M383.5,343.6 L373.6,343.0 L373.6,347.4 L383.5,348.0 Z" stroke="#111" stroke-width="0.8" fill="none" stroke-linejoin="round" />
<line x1="381.2" y1="343.5" x2="378.7" y2="347.7" stroke="#111" stroke-width="0.5" />
<line x1="378.2" y1="343.3" x2="375.7" y2="347.5" stroke="#111" stroke-width="0.5" />
<path d="M385.6,352.4 L373.6,351.2 L373.6,356.4 L383.2,357.6 Z" stroke="#111" stroke-width="0.8" fill="none" stroke-linejoin="round" />
<line x1="382.7" y1="352.2" x2="380.2" y2="357.2" stroke="#111" stroke-width="0.5" />
<line x1="379.2" y1="351.8" x2="376.7" y2="356.8" stroke="#111" stroke-width="0.5" />
<line x1="373.6" y1="343.0" x2="371.6" y2="343.0" stroke="#111" stroke-width="0.8" />
<line x1="373.6" y1="356.4" x2="371.6" y2="357.5" stroke="#111" stroke-width="0.8" />
<line x1="494.5" y1="322.0" x2="510.0" y2="325.0" stroke="#111" stroke-width="0.8" />
<path d="M494.0,321.9 L499.5,321.2 L498.6,324.6 Z" stroke="#111" stroke-width="0.5" fill="#111" stroke-linejoin="round" />
<ellipse cx="0" cy="0" rx="8.8" ry="5.4" transform="translate(472.4,270.3) rotate(0)" fill="#fff" stroke="#111" stroke-width="1"/>
<text x="0" y="0" font-size="12.5" text-anchor="middle" transform="translate(472.4,270.3) rotate(100) scale(0.72,1) translate(0,4.5)" fill="#111" stroke="#111" stroke-width="0.35" opacity="0.99">7</text>
<ellipse cx="0" cy="0" rx="8.8" ry="5.4" transform="translate(455.2,302.3) rotate(0)" fill="#fff" stroke="#111" stroke-width="1"/>
<text x="0" y="0" font-size="12.5" text-anchor="middle" transform="translate(455.2,302.3) rotate(100) scale(0.72,1) translate(0,4.5)" fill="#111" stroke="#111" stroke-width="0.35" opacity="0.99">C</text>
<ellipse cx="0" cy="0" rx="8.8" ry="5.4" transform="translate(518.5,325.7) rotate(0)" fill="#fff" stroke="#111" stroke-width="1"/>
<text x="0" y="0" font-size="12.5" text-anchor="middle" transform="translate(518.5,325.7) rotate(100) scale(0.72,1) translate(0,4.5)" fill="#111" stroke="#111" stroke-width="0.35" opacity="0.99">6</text>
<ellipse cx="0" cy="0" rx="8.8" ry="5.4" transform="translate(549.9,333.5) rotate(0)" fill="#fff" stroke="#111" stroke-width="1"/>
<text x="0" y="0" font-size="12.5" text-anchor="middle" transform="translate(549.9,333.5) rotate(100) scale(0.72,1) translate(0,4.5)" fill="#111" stroke="#111" stroke-width="0.35" opacity="0.99">5</text>
<ellipse cx="0" cy="0" rx="8.8" ry="5.4" transform="translate(508.0,379.8) rotate(0)" fill="#fff" stroke="#111" stroke-width="1"/>
<text x="0" y="0" font-size="12.5" text-anchor="middle" transform="translate(508.0,379.8) rotate(100) scale(0.72,1) translate(0,4.5)" fill="#111" stroke="#111" stroke-width="0.35" opacity="0.99">4</text>
<ellipse cx="0" cy="0" rx="8.8" ry="5.4" transform="translate(572.0,413.5) rotate(0)" fill="#fff" stroke="#111" stroke-width="1"/>
<text x="0" y="0" font-size="12.5" text-anchor="middle" transform="translate(572.0,413.5) rotate(100) scale(0.72,1) translate(0,4.5)" fill="#111" stroke="#111" stroke-width="0.35" opacity="0.99">3</text>
<ellipse cx="0" cy="0" rx="8.8" ry="5.4" transform="translate(463.3,413.0) rotate(0)" fill="#fff" stroke="#111" stroke-width="1"/>
<text x="0" y="0" font-size="12.5" text-anchor="middle" transform="translate(463.3,413.0) rotate(100) scale(0.72,1) translate(0,4.5)" fill="#111" stroke="#111" stroke-width="0.35" opacity="0.99">2</text>
<ellipse cx="0" cy="0" rx="8.8" ry="5.4" transform="translate(404.0,404.3) rotate(0)" fill="#fff" stroke="#111" stroke-width="1"/>
<text x="0" y="0" font-size="12.5" text-anchor="middle" transform="translate(404.0,404.3) rotate(55) scale(0.72,1) translate(0,4.5)" fill="#111" stroke="#111" stroke-width="0.35" opacity="0.99">1</text>
<ellipse cx="0" cy="0" rx="8.8" ry="5.4" transform="translate(169.7,426.4) rotate(0)" fill="#fff" stroke="#111" stroke-width="1"/>
<text x="0" y="0" font-size="12.5" text-anchor="middle" transform="translate(169.7,426.4) rotate(-80) scale(0.72,1) translate(0,4.5)" fill="#111" stroke="#111" stroke-width="0.35" opacity="0.99">2</text>
<ellipse cx="0" cy="0" rx="8.8" ry="5.4" transform="translate(250.3,395.6) rotate(0)" fill="#fff" stroke="#111" stroke-width="1"/>
<text x="0" y="0" font-size="12.5" text-anchor="middle" transform="translate(250.3,395.6) rotate(-105) scale(0.72,1) translate(0,4.5)" fill="#111" stroke="#111" stroke-width="0.35" opacity="0.99">1</text>
<ellipse cx="0" cy="0" rx="8.8" ry="5.4" transform="translate(365.1,407.7) rotate(0)" fill="#fff" stroke="#111" stroke-width="1"/>
<text x="0" y="0" font-size="12.5" text-anchor="middle" transform="translate(365.1,407.7) rotate(-100) scale(0.72,1) translate(0,4.5)" fill="#111" stroke="#111" stroke-width="0.35" opacity="0.99">A</text>
<ellipse cx="0" cy="0" rx="9" ry="5.3" transform="translate(301.6,340.0) rotate(-14)" fill="#fff" stroke="#111" stroke-width="1"/>
<text x="0" y="0" font-size="12.5" text-anchor="middle" transform="translate(301.6,340.0) rotate(-120) scale(0.72,1) translate(0,4.5)" fill="#111" stroke="#111" stroke-width="0.35" opacity="0.99">B</text>
<path d="M585.4,423.2 L592.3,413.3 L610.0,411.0 L626.2,418.5 L619.3,429.1 L600.6,433.6 Z" stroke="#111" stroke-width="0.7" fill="none" stroke-linejoin="round" />
<path d="M587.8,423.1 L593.9,414.3 L609.5,412.3 L623.7,418.9 L617.7,428.2 L601.2,432.2 Z" stroke="#111" stroke-width="0.7" fill="none" stroke-linejoin="round" />
<path d="M590.3,422.9 L595.5,415.4 L609.0,413.6 L621.3,419.3 L616.0,427.4 L601.8,430.8 Z" stroke="#111" stroke-width="0.7" fill="none" stroke-linejoin="round" />
<ellipse cx="605.7" cy="422.0" rx="11.5" ry="6.5" stroke="#111" stroke-width="0.7" fill="none" />
<ellipse cx="605.7" cy="422.0" rx="8.0" ry="4.5" stroke="#111" stroke-width="0.7" fill="none" />
<ellipse cx="605.7" cy="422.0" rx="4.5" ry="2.6" stroke="#111" stroke-width="0.7" fill="none" />
<ellipse cx="605.7" cy="422.0" rx="1.0" ry="0.7" stroke="#111" stroke-width="0.7" fill="#111" />
</svg>
</body></html>
